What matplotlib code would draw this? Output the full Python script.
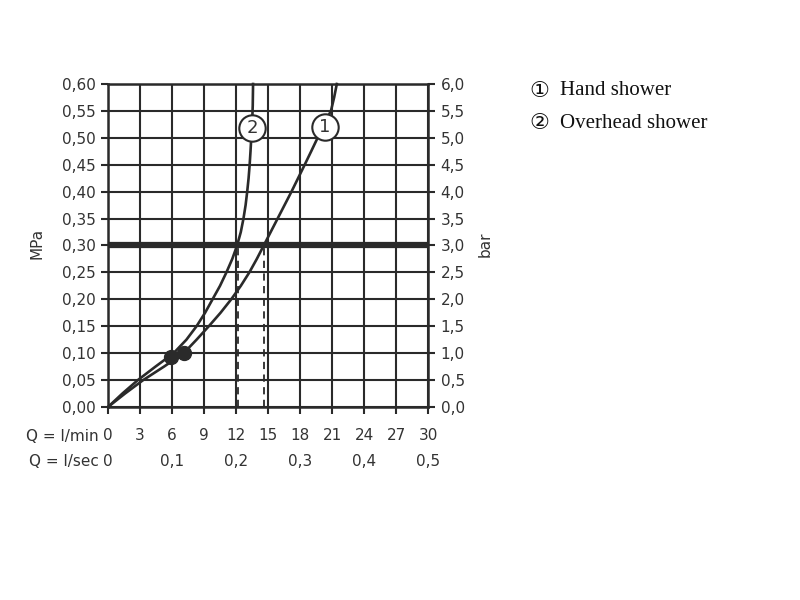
import matplotlib
matplotlib.use("Agg")
import matplotlib.pyplot as plt
import matplotlib.transforms as mtransforms

# ---- data ----
hand_q = [0, 1.6, 3.3, 5.25, 7.1, 8.3, 9.45, 10.55, 11.55, 12.45, 13.25, 13.95, 14.6,
          15.25, 15.9, 16.55, 17.2, 17.82, 18.44, 19.05, 19.65, 20.1, 20.9, 21.2, 21.45]
hand_p = [0, 0.025, 0.05, 0.075, 0.10, 0.125, 0.15, 0.175, 0.20, 0.225, 0.25, 0.275, 0.30,
          0.325, 0.35, 0.375, 0.40, 0.425, 0.45, 0.475, 0.50, 0.52, 0.55, 0.575, 0.60]
overhead_q = [0, 1.35, 2.8, 4.45, 6.15, 7.35, 8.3, 9.1, 9.8, 10.5, 11.1, 11.65, 12.1,
              12.45, 12.7, 12.9, 13.05, 13.18, 13.28, 13.36, 13.43, 13.5, 13.57, 13.6]
overhead_p = [0, 0.025, 0.05, 0.075, 0.10, 0.125, 0.15, 0.175, 0.20, 0.225, 0.25, 0.275, 0.30,
              0.325, 0.35, 0.375, 0.40, 0.425, 0.45, 0.475, 0.50, 0.52, 0.56, 0.60]
hand_dot = (7.1, 0.10)
overhead_dot = (5.95, 0.093)
hand_label_pos = (20.3, 0.52)
overhead_label_pos = (13.5, 0.518)
ref_pressure = 0.30
hand_flow_at_ref = 14.6
overhead_flow_at_ref = 12.2

q_min_ticks = [0, 3, 6, 9, 12, 15, 18, 21, 24, 27, 30]
q_sec_pos = [0, 6, 12, 18, 24, 30]
q_sec_labels = ["0", "0,1", "0,2", "0,3", "0,4", "0,5"]
mpa_ticks = [i * 0.05 for i in range(13)]
mpa_labels = ["0,00", "0,05", "0,10", "0,15", "0,20", "0,25", "0,30",
              "0,35", "0,40", "0,45", "0,50", "0,55", "0,60"]
bar_labels = ["0,0", "0,5", "1,0", "1,5", "2,0", "2,5", "3,0",
              "3,5", "4,0", "4,5", "5,0", "5,5", "6,0"]
legend_marks = ["\u2460", "\u2461"]
legend_names = ["Hand shower", "Overhead shower"]

TXT = "#333333"
LINE = "#2a2a2a"

fig = plt.figure(figsize=(8, 6), dpi=100)
ax = fig.add_axes([0.135, 0.3217, 0.40, 0.5383])
ax.set_xlim(0, 30)
ax.set_ylim(0, 0.60)

ax.set_xticks(q_min_ticks)
ax.set_xticklabels([str(v) for v in q_min_ticks], fontsize=11, color=TXT)
ax.set_yticks(mpa_ticks)
ax.set_yticklabels(mpa_labels, fontsize=11, color=TXT)
ax.tick_params(axis="both", direction="out", length=5, width=1.5, color=LINE, pad=4)
ax.tick_params(axis="x", pad=10)
ax.grid(True, color=LINE, linewidth=1.5)
for s in ax.spines.values():
    s.set_linewidth(1.8)
    s.set_color(LINE)

ax2 = ax.twinx()
ax2.set_ylim(0, 6.0)
ax2.set_yticks([i * 0.5 for i in range(13)])
ax2.set_yticklabels(bar_labels, fontsize=11, color=TXT)
ax2.tick_params(axis="y", direction="out", length=5, width=1.5, color=LINE, pad=4)
for s in ax2.spines.values():
    s.set_visible(False)

# reference pressure line and dashed drop lines
ax.axhline(ref_pressure, color=LINE, linewidth=4.5, zorder=3)
ax.plot([overhead_flow_at_ref, overhead_flow_at_ref], [0, ref_pressure],
        color=LINE, linewidth=1.3, linestyle=(0, (4, 3)), zorder=3)
ax.plot([hand_flow_at_ref, hand_flow_at_ref], [0, ref_pressure],
        color=LINE, linewidth=1.3, linestyle=(0, (4, 3)), zorder=3)

# curves
ax.plot(hand_q, hand_p, color=LINE, linewidth=1.9, zorder=4, clip_on=False,
        solid_joinstyle="round")
ax.plot(overhead_q, overhead_p, color=LINE, linewidth=1.9, zorder=4, clip_on=False,
        solid_joinstyle="round")

# dots
ax.plot(*overhead_dot, marker="o", markersize=10, color=LINE, zorder=5)
ax.plot(*hand_dot, marker="o", markersize=10, color=LINE, zorder=5)

# circled labels
for pos, lab in [(hand_label_pos, "1"), (overhead_label_pos, "2")]:
    ax.plot(*pos, marker="o", markersize=19, markerfacecolor="white",
            markeredgecolor=LINE, markeredgewidth=1.5, zorder=6)
    ax.text(pos[0], pos[1], lab, ha="center", va="center", fontsize=13,
            color=TXT, zorder=7)

# axis titles
ax.text(-0.222, 0.505, "MPa", transform=ax.transAxes, rotation=90,
        ha="center", va="center", fontsize=11, color=TXT)
ax.text(1.18, 0.505, "bar", transform=ax.transAxes, rotation=90,
        ha="center", va="center", fontsize=11, color=TXT)

# flow rows
trans = mtransforms.blended_transform_factory(ax.transData, ax.transAxes)
ax.text(-0.03, -0.091, "Q = l/min", transform=ax.transAxes, ha="right",
        va="center", fontsize=11, color=TXT)
ax.text(-0.03, -0.168, "Q = l/sec", transform=ax.transAxes, ha="right",
        va="center", fontsize=11, color=TXT)
for x, lab in zip(q_sec_pos, q_sec_labels):
    ax.text(x, -0.168, lab, transform=trans, ha="center", va="center",
            fontsize=11, color=TXT)

# legend text
for i, (m, t) in enumerate(zip(legend_marks, legend_names)):
    y = 1 - (91 + i * 32) / 600
    fig.text(529 / 800, y, m, ha="left", va="center", fontsize=16,
             color="#111111", family=["DejaVu Sans"])
    fig.text(560 / 800, y, t, ha="left", va="center", fontsize=15,
             color="#111111", family=["Liberation Serif", "DejaVu Serif"])

fig.savefig("out.png", dpi=100)
